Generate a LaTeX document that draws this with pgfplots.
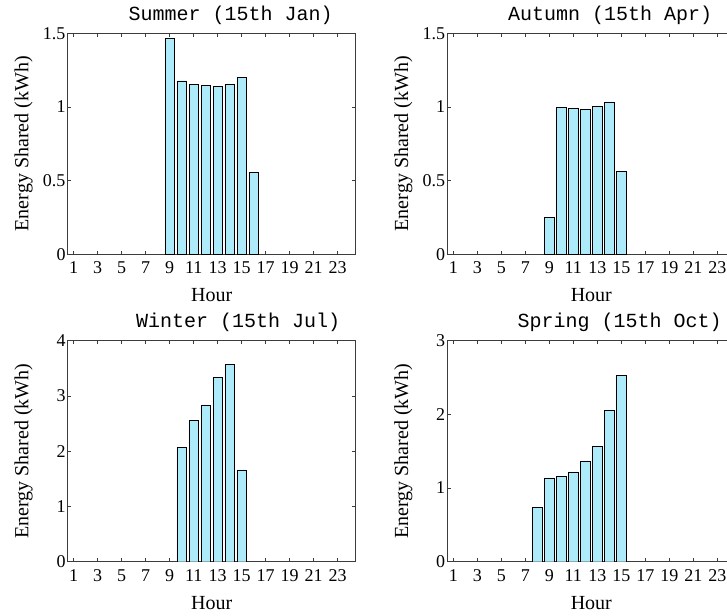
\documentclass[border=0pt]{standalone}
\usepackage{fontspec}
\setmainfont{Liberation Serif}
\newfontfamily\titlefont{Liberation Mono}
\usepackage{pgfplots}
\pgfplotsset{compat=1.18}
\definecolor{barfill}{RGB}{173,235,250}
\definecolor{axgray}{RGB}{60,60,60}

\pgfplotsset{
  hourpanel/.style={
    scale only axis, width=288pt, height=221pt,
    anchor=south west,
    xmin=0.5, xmax=24.5,
    xtick={1,3,...,23},
    ybar, bar width=0.8,
    ymin=0,
    tick align=inside, xtick pos=both, ytick pos=both,
    major tick length=3.5pt,
    axis line style={axgray, line width=0.6pt},
    tick style={axgray, line width=0.6pt},
    tick label style={font=\fontsize{18}{18}\selectfont},
    /pgf/number format/assume math mode=true,
    xticklabel style={yshift=-4pt},
    yticklabel style={inner sep=2pt},
    xlabel={Hour}, ylabel={Energy Shared (kWh)},
    label style={font=\fontsize{20}{20}\selectfont},
    xlabel style={at={(axis description cs:0.5,-0.185)}, anchor=center},
    ylabel style={at={(axis description cs:-0.153,0.5)}, anchor=center},
    title style={font=\titlefont\fontsize{20}{20}\selectfont, anchor=base, yshift=7pt},
    cycle list={{fill=barfill, draw=black, line width=0.7pt}},
  }
}

\begin{document}
\begin{tikzpicture}
\useasboundingbox (0,0) rectangle (727pt,615pt);
\clip (0,0) rectangle (727pt,615pt);

% Summer
\begin{axis}[hourpanel, at={(67.7pt,360.7pt)},
  ymax=1.5, ytick={0,0.5,1,1.5},
  title={Summer (15th Jan)}, title style={at={(axis description cs:0.566,1)}}]
\addplot coordinates {(9,1.468) (10,1.178) (11,1.154) (12,1.147) (13,1.138) (14,1.156) (15,1.199) (16,0.557)};
\end{axis}

% Autumn
\begin{axis}[hourpanel, at={(447.3pt,360.7pt)},
  ymax=1.5, ytick={0,0.5,1,1.5},
  title={Autumn (15th Apr)}, title style={at={(axis description cs:0.565,1)}}]
\addplot coordinates {(9,0.251) (10,0.997) (11,0.991) (12,0.986) (13,1.005) (14,1.035) (15,0.563)};
\end{axis}

% Winter
\begin{axis}[hourpanel, at={(67.7pt,53.3pt)},
  ymax=4, ytick={0,1,2,3,4},
  title={Winter (15th Jul)}, title style={at={(axis description cs:0.592,1)}}]
\addplot coordinates {(10,2.07) (11,2.56) (12,2.84) (13,3.34) (14,3.57) (15,1.66)};
\end{axis}

% Spring
\begin{axis}[hourpanel, at={(447.3pt,53.3pt)},
  ymax=3, ytick={0,1,2,3},
  title={Spring (15th Oct)}, title style={at={(axis description cs:0.598,1)}}]
\addplot coordinates {(8,0.735) (9,1.137) (10,1.16) (11,1.22) (12,1.37) (13,1.57) (14,2.05) (15,2.53)};
\end{axis}
\end{tikzpicture}
\end{document}
